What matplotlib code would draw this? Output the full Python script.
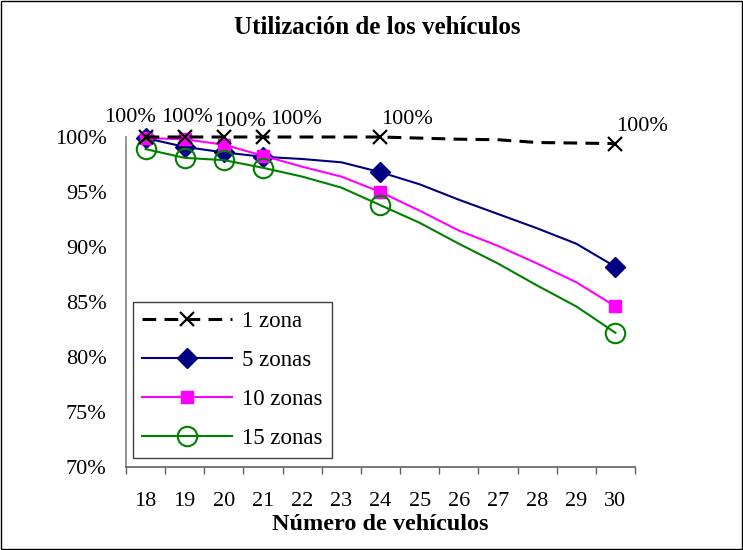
import matplotlib.pyplot as plt
from matplotlib.patches import Rectangle

# Número de vehículos (categorías del eje x)
vehiculos = [18, 19, 20, 21, 22, 23, 24, 25, 26, 27, 28, 29, 30]

# Utilización (%) por número de zonas
zona_1 = [100, 100, 100, 100, 100, 100, 100, 99.9, 99.8, 99.75, 99.5, 99.45, 99.4]
zonas_5 = [99.9, 99.1, 98.6, 98.2, 98.0, 97.7, 96.8, 95.7, 94.3, 93.0, 91.7, 90.3, 88.2]
zonas_10 = [99.9, 99.8, 99.3, 98.3, 97.3, 96.4, 95.0, 93.3, 91.5, 90.1, 88.5, 86.8, 84.6]
zonas_15 = [98.9, 98.1, 97.9, 97.2, 96.4, 95.4, 93.8, 92.2, 90.3, 88.5, 86.5, 84.6, 82.2]

# puntos con marcador y etiqueta (18, 19, 20, 21, 24, 30)
con_marca = [0, 1, 2, 3, 6, 12]
etiquetas_1 = ['100%', '100%', '100%', '100%', '100%', '100%']
desplaz_etiq = [(-16, 19), (2, 19), (16, 15), (33, 17), (27, 18), (27, 17)]

plt.rcParams['font.family'] = ['Liberation Serif', 'DejaVu Serif']

fig = plt.figure(figsize=(7.43, 5.5), dpi=100)
ax = fig.add_axes([126 / 743, 1 - 467 / 550, (635 - 126) / 743, (467 - 137) / 550])

ax.plot(vehiculos, zona_1, color='black', lw=2.2, dashes=(4.5, 2.7),
        marker='x', ms=9.5, mew=1.6, markevery=con_marca, label='1 zona',
        clip_on=False, zorder=5)
ax.plot(vehiculos, zonas_5, color='#000080', lw=1.5, marker='D', ms=10.5,
        markevery=con_marca, label='5 zonas', clip_on=False, zorder=4)
ax.plot(vehiculos, zonas_10, color='#FF00FF', lw=1.5, marker='s', ms=9,
        markevery=con_marca, label='10 zonas', clip_on=False, zorder=4)
ax.plot(vehiculos, zonas_15, color='#008000', lw=1.5, marker='o', ms=14,
        mfc='none', mew=1.5, markevery=con_marca, label='15 zonas',
        clip_on=False, zorder=4)

# etiquetas de datos de la serie "1 zona"
for i, txt, (dx, dy) in zip(con_marca, etiquetas_1, desplaz_etiq):
    ax.annotate(txt, (vehiculos[i], zona_1[i]), xytext=(dx, dy),
                textcoords='offset pixels', ha='center', va='center',
                fontsize=16, annotation_clip=False)

ax.set_xlim(17.5, 30.5)
ax.set_ylim(70, 100)
ax.set_xticks(vehiculos)
ax.set_xticklabels([str(v) for v in vehiculos])
ax.set_xticks([v - 0.5 for v in vehiculos] + [30.5], minor=True)
ax.tick_params(axis='x', which='major', length=0, pad=18, labelsize=16)
ax.tick_params(axis='x', which='minor', length=5, direction='out',
               color='#606060', width=1)
ax.set_yticks([70, 75, 80, 85, 90, 95, 100])
ax.set_yticklabels(['70%', '75%', '80%', '85%', '90%', '95%', '100%'])
ax.tick_params(axis='y', length=0, pad=14, labelsize=16)

for s in ['top', 'right']:
    ax.spines[s].set_visible(False)
ax.spines['left'].set_color('#808080')
ax.spines['bottom'].set_color('#606060')
ax.spines['left'].set_linewidth(1.2)
ax.spines['bottom'].set_linewidth(1.2)

ax.set_xlabel('Número de vehículos', fontsize=17.5, fontweight='bold',
              labelpad=2)

fig.text(377 / 743, 1 - 28 / 550, 'Utilización de los vehículos',
         ha='center', va='center', fontsize=18, fontweight='bold')

leg = ax.legend(loc='lower left', bbox_to_anchor=(0.014, 0.027),
                fontsize=16.5, handlelength=3.9, handletextpad=0.45,
                labelspacing=0.78, borderpad=0.4, fancybox=False,
                framealpha=1, borderaxespad=0)
leg.get_frame().set_edgecolor('#404040')
leg.get_frame().set_linewidth(1.0)

fig.patches.append(Rectangle((0.001, 0.001), 0.997, 0.997,
                             transform=fig.transFigure, fill=False,
                             edgecolor='black', lw=1))

fig.savefig('out.png', dpi=100)
